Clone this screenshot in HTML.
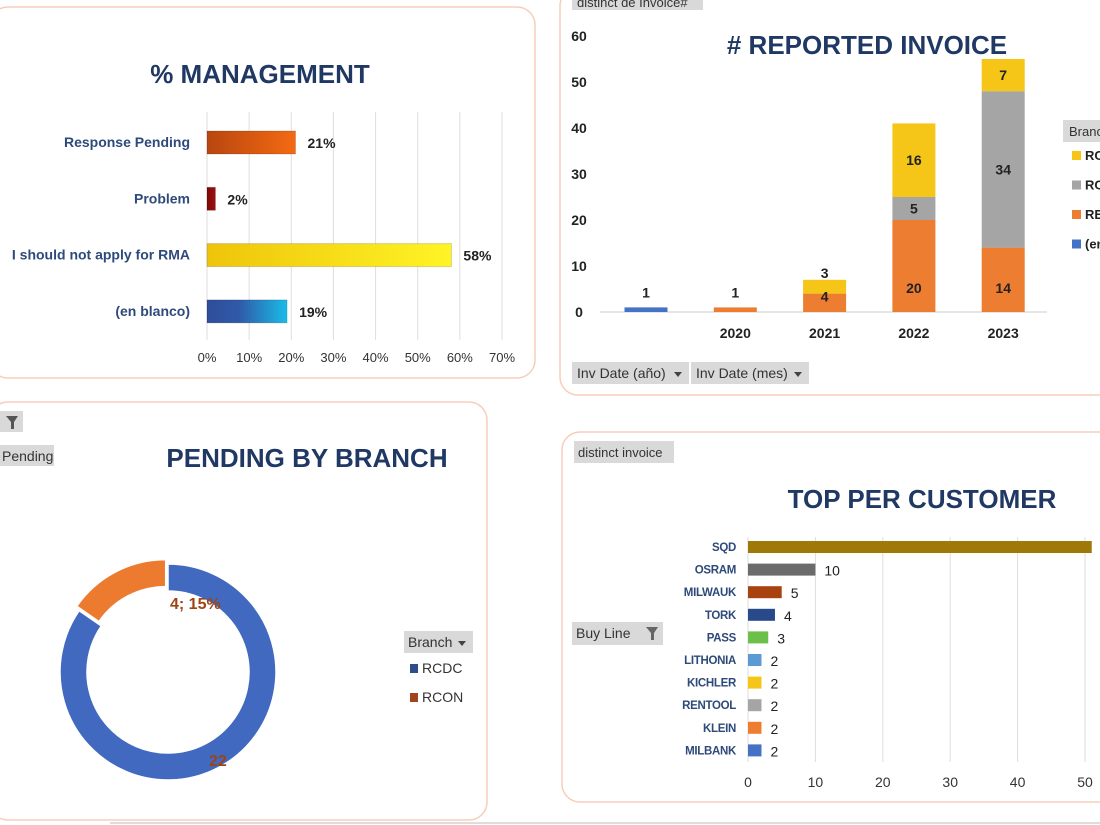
<!DOCTYPE html>
<html><head><meta charset="utf-8"><style>
body{margin:0;width:1100px;height:825px;overflow:hidden;background:#fff;font-family:"Liberation Sans",sans-serif}
svg{display:block}
.t{font-family:"Liberation Sans",sans-serif}
</style></head><body>
<svg id="s" width="1100" height="825" viewBox="0 0 1100 825">
<defs>
<linearGradient id="gOr" x1="0" x2="1"><stop offset="0" stop-color="#b8460f"/><stop offset="1" stop-color="#f46a12"/></linearGradient>
<linearGradient id="gRd" x1="0" x2="1"><stop offset="0" stop-color="#7a0808"/><stop offset="1" stop-color="#a01010"/></linearGradient>
<linearGradient id="gYe" x1="0" x2="1"><stop offset="0" stop-color="#eec40a"/><stop offset="1" stop-color="#fff426"/></linearGradient>
<linearGradient id="gBl" x1="0" x2="1"><stop offset="0" stop-color="#2f4d9a"/><stop offset="0.4" stop-color="#2f5aa8"/><stop offset="1" stop-color="#1abce8"/></linearGradient>
</defs>
<rect x="-10" y="7" width="545" height="371" rx="18" fill="#fff" stroke="#f8cdb8" stroke-width="1.5"/>
<rect x="560" y="-12" width="560" height="407" rx="18" fill="#fff" stroke="#f8cdb8" stroke-width="1.5"/>
<rect x="-10" y="402" width="497" height="418" rx="18" fill="#fff" stroke="#f8cdb8" stroke-width="1.5"/>
<rect x="562" y="432" width="560" height="370" rx="18" fill="#fff" stroke="#f8cdb8" stroke-width="1.5"/>
<line x1="110" y1="823" x2="1100" y2="823" stroke="#ddd" stroke-width="2"/>
<g id="g1"></g><g id="g2"></g><g id="g3"></g><g id="g4"></g>
</svg>
<script>
// ---- Chart 1: % management ----
const mgmtCats = ["Response Pending","Problem","I should not apply for RMA","(en blanco)"];
const mgmtVals = [21, 2, 58, 19];
const mgmtFills = ["url(#gOr)","url(#gRd)","url(#gYe)","url(#gBl)"];
const mgmtTicks = [0,10,20,30,40,50,60,70];
// ---- Chart 2: reported invoice ----
const yearCats = ["", "2020", "2021", "2022", "2023"];
const serBlank = [1, 0, 0, 0, 0];
const serRE = [0, 1, 4, 20, 14];
const serRCgray = [0, 0, 0, 5, 34];
const serRCyellow = [0, 0, 3, 16, 7];
const invTicks = [0,10,20,30,40,50,60];
// ---- Chart 3: pending by branch ----
const branchCats = ["RCDC","RCON"];
const branchVals = [22, 4];
// ---- Chart 4: top per customer ----
const custCats = ["SQD","OSRAM","MILWAUK","TORK","PASS","LITHONIA","KICHLER","RENTOOL","KLEIN","MILBANK"];
const custVals = [51,10,5,4,3,2,2,2,2,2];
const custTicks = [0,10,20,30,40,50];

const NS="http://www.w3.org/2000/svg";
function mk(p,tag,a,txt){const e=document.createElementNS(NS,tag);for(const k in a)e.setAttribute(k,a[k]);if(txt!==undefined)e.textContent=txt;p.appendChild(e);return e;}
const NAVY="#1f3864";

// Chart 1
(function(){
const g=document.getElementById('g1');
const x=v=>207+v*(502-207)/70;
const rowY=i=>142+i*56.3;
let t=mk(g,'text',{x:260,y:83,'text-anchor':'middle','font-size':26,'font-weight':'bold',fill:NAVY},"% MANAGEMENT");


mgmtTicks.forEach(v=>{
 mk(g,'line',{x1:x(v),x2:x(v),y1:112,y2:340,stroke:'#dedede'});
 let l=mk(g,'text',{x:x(v),y:362,'text-anchor':'middle','font-size':13,fill:'#333'},v+"%");
 
 
});
mgmtCats.forEach((c,i)=>{
 const y=rowY(i);
 let l=mk(g,'text',{x:190,y:y+5,'text-anchor':'end','font-size':14,'font-weight':'bold',fill:'#2e4a7a'},c);
 
 
 let b=mk(g,'rect',{x:x(0),y:y-11,width:x(mgmtVals[i])-x(0),height:23,fill:mgmtFills[i],stroke:'rgba(0,0,0,0.15)'});
 
 
 let v=mk(g,'text',{x:x(mgmtVals[i])+12,y:y+6,'font-size':14,'font-weight':'bold',fill:'#222'},mgmtVals[i]+"%");
 
 
});
})();

// Chart 2
(function(){
const g=document.getElementById('g2');
const y=v=>312-v*(312-36)/60;
const cx=i=>646+i*89.3;
const bw=43;
mk(g,'rect',{x:572,y:-6,width:131,height:16,fill:'#d9d9d9'});
let bt=mk(g,'text',{x:577,y:7,'font-size':13,fill:'#333'},"distinct de Invoice#");


let t=mk(g,'text',{x:867,y:54,'text-anchor':'middle','font-size':26,'font-weight':'bold',fill:NAVY},"# REPORTED INVOICE");


invTicks.forEach(v=>{
 let l=mk(g,'text',{x:579,y:y(v)+5,'text-anchor':'middle','font-size':14,'font-weight':'bold',fill:'#222'},v);
 
 
});
mk(g,'line',{x1:600,x2:1047,y1:312,y2:312,stroke:'#ccc'});
const series=[[serBlank,'#4472c4'],[serRE,'#ed7d31'],[serRCgray,'#a5a5a5'],[serRCyellow,'#f5c518']];
yearCats.forEach((c,i)=>{
 let base=0;
 series.forEach(([arr,col],si)=>{
  const v=arr[i]; if(!v) return;
  const top=base+v;
  let r=mk(g,'rect',{x:cx(i)-bw/2,y:y(top),width:bw,height:Math.max(y(base)-y(top),3),fill:col});
  
  
  base=top;
 });
 let tot=base;
 // labels
 let b2=0;
 series.forEach(([arr])=>{
  const v=arr[i]; if(!v) return;
  let ly;
  if(tot<=2) ly=y(tot)-10;
  else if(v<=3 && b2>0 && i===2) ly=y(b2+v)-2;
  else ly=(y(b2)+y(b2+v))/2+5;
  if(i===2 && b2===0) ly=y(b2+v)+8;
  if(v>=10 && b2===0) ly=y(0)-19;
  let l=mk(g,'text',{x:cx(i),y:ly,'text-anchor':'middle','font-size':14,'font-weight':'bold',fill:'#222'},v);
  
  
  b2+=v;
 });
 let xl=mk(g,'text',{x:cx(i),y:338,'text-anchor':'middle','font-size':14,'font-weight':'bold',fill:'#222'},c);
 
 
});
mk(g,'rect',{x:1063,y:120,width:50,height:22,fill:'#d9d9d9'});
let lb=mk(g,'text',{x:1069,y:136,'font-size':13,fill:'#333'},"Branch");


const legN=["RCON","RCDC","REPAIR","(en blanco)"];const legC=['#f5c518','#a5a5a5','#ed7d31','#4472c4'];
legN.forEach((n,i)=>{
 const ly=155+i*29.5;
 mk(g,'rect',{x:1072,y:ly-4,width:9,height:9,fill:legC[i]});
 let e=mk(g,'text',{x:1085,y:ly+5,'font-size':13,'font-weight':'bold',fill:'#222'},n);
 
 
});
[[572,"Inv Date (año)",117],[691,"Inv Date (mes)",118]].forEach(([bx,txt,w])=>{
 mk(g,'rect',{x:bx,y:362,width:w,height:22,fill:'#d9d9d9'});
 let e=mk(g,'text',{x:bx+5,y:378,'font-size':14,fill:'#333'},txt);
 
 
 mk(g,'path',{d:`M${bx+w-15} 372 l8 0 l-4 5z`,fill:'#444'});
});
})();

// Chart 3
(function(){
const g=document.getElementById('g3');
mk(g,'rect',{x:-2,y:411,width:25,height:21,fill:'#d9d9d9'});
mk(g,'path',{d:'M6 416 l12 0 l-4 6 l0 7 l-3 0 l0 -7z',fill:'#555'});
mk(g,'rect',{x:-2,y:445,width:56,height:21,fill:'#d9d9d9'});
let p=mk(g,'text',{x:2,y:461,'font-size':14,fill:'#333'},"Pending");


let t=mk(g,'text',{x:307,y:467,'text-anchor':'middle','font-size':26,'font-weight':'bold',fill:NAVY},"PENDING BY BRANCH");


const cx=168,cy=672,R=108,r=81;
const total=branchVals.reduce((a,b)=>a+b,0);
const cols=['#4169c0','#ec7a2f'];
let a0=0;
branchVals.forEach((v,i)=>{
 const a1=a0+v/total*2*Math.PI;
 const off=i===1?5:0;const mid=(a0+a1)/2;
 const ox=off*Math.sin(mid),oy=-off*Math.cos(mid);
 const pt=(rad,a)=>[cx+ox+rad*Math.sin(a),cy+oy-rad*Math.cos(a)];
 const large=(a1-a0)>Math.PI?1:0;
 const [x1,y1]=pt(R,a0),[x2,y2]=pt(R,a1),[x3,y3]=pt(r,a1),[x4,y4]=pt(r,a0);
 let s=mk(g,'path',{d:`M${x1} ${y1} A${R} ${R} 0 ${large} 1 ${x2} ${y2} L${x3} ${y3} A${r} ${r} 0 ${large} 0 ${x4} ${y4}Z`,fill:cols[i],stroke:'#fff','stroke-width':1.5});
 
 
 a0=a1;
});
let l1=mk(g,'text',{x:170,y:609,'font-size':16,'font-weight':'bold',fill:'#9c4414'},branchVals[1]+"; "+Math.round(branchVals[1]/total*100)+"%");


let l2=mk(g,'text',{x:209,y:766,'font-size':16,'font-weight':'bold',fill:'#9c4414'},branchVals[0]);


mk(g,'rect',{x:404,y:631,width:69,height:22,fill:'#d9d9d9'});
let lb=mk(g,'text',{x:408,y:647,'font-size':14,fill:'#333'},"Branch");


mk(g,'path',{d:'M458 641 l8 0 l-4 5z',fill:'#444'});
const lc=['#2f4d8a','#a0441a'];
branchCats.forEach((c,i)=>{
 const ly=668+i*29;
 mk(g,'rect',{x:410,y:ly-4,width:8,height:9,fill:lc[i]});
 let e=mk(g,'text',{x:422,y:ly+5,'font-size':14,fill:'#333'},c);
 
 
});
})();

// Chart 4
(function(){
const g=document.getElementById('g4');
const x=v=>748+v*(1085-748)/50;
const rowY=i=>547+i*22.6;
mk(g,'rect',{x:574,y:441,width:100,height:22,fill:'#d9d9d9'});
let bt=mk(g,'text',{x:578,y:457,'font-size':13,fill:'#333'},"distinct invoice");


mk(g,'rect',{x:572,y:622,width:91,height:23,fill:'#d9d9d9'});
let bl=mk(g,'text',{x:576,y:638,'font-size':14,fill:'#333'},"Buy Line");


mk(g,'path',{d:'M646 627 l12 0 l-4 6 l0 7 l-3 0 l0 -7z',fill:'#666'});
let t=mk(g,'text',{x:922,y:508,'text-anchor':'middle','font-size':26,'font-weight':'bold',fill:NAVY},"TOP PER CUSTOMER");


custTicks.forEach(v=>{
 mk(g,'line',{x1:x(v),x2:x(v),y1:537,y2:762,stroke:'#dedede'});
 let l=mk(g,'text',{x:x(v),y:787,'text-anchor':'middle','font-size':14,fill:'#333'},v);
 
 
});
const cols=['#a07808','#6b6b6b','#a8420e','#284a8a','#6cbf4a','#5b9bd5','#f5c518','#a5a5a5','#ed7d31','#4472c4'];
custCats.forEach((c,i)=>{
 const y=rowY(i);
 let l=mk(g,'text',{x:736,y:y+4,'text-anchor':'end','font-size':11.5,'font-weight':'bold',fill:'#2e4a7a','letter-spacing':'-0.3'},c);
 
 
 let b=mk(g,'rect',{x:x(0),y:y-6,width:x(custVals[i])-x(0),height:12,fill:cols[i]});
 
 
 if(i>0){
  let v=mk(g,'text',{x:x(custVals[i])+9,y:y+6,'font-size':14,fill:'#222'},custVals[i]);
  
  
 }
});
})();
</script>
</body></html>
